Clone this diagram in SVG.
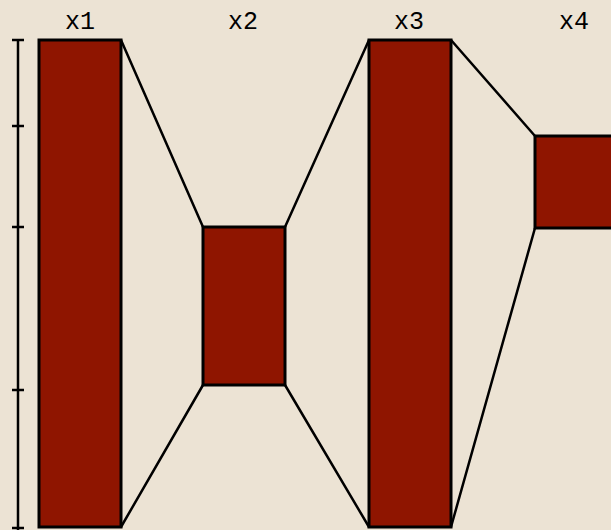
<svg xmlns="http://www.w3.org/2000/svg" width="611" height="530" viewBox="0 0 611 530">
<style>
.bar{fill:#8f1500;stroke:#000;stroke-width:3}
.ln{stroke:#000;stroke-width:2.5;fill:none}
.ax{stroke:#000;stroke-width:2.5;fill:none}
.lbl{font-family:"Liberation Mono","DejaVu Sans Mono",monospace;font-size:25px;fill:#000;text-anchor:middle}
</style>
<rect width="611" height="530" fill="#ece3d4"/>
<g id="axis">
<path class="ax" d="M18 40V530M12 40H24M12 126H24M12 227H24M12 390H24M12 528H24"/>
</g>
<g id="connectors">
<path class="ln" d="M121 40L203 227M121 527L203 385M285 227L369 40M285 385L369 527M451 40L535 136M451 527L535 228"/>
</g>
<g id="x1"><rect class="bar" x="39" y="40" width="82" height="487"/><text class="lbl" x="80" y="29">x1</text></g>
<g id="x2"><rect class="bar" x="203" y="227" width="82" height="158"/><text class="lbl" x="243" y="29">x2</text></g>
<g id="x3"><rect class="bar" x="369" y="40" width="82" height="487"/><text class="lbl" x="409" y="29">x3</text></g>
<g id="x4"><rect class="bar" x="535" y="136" width="82" height="92"/><text class="lbl" x="574" y="29">x4</text></g>
</svg>
